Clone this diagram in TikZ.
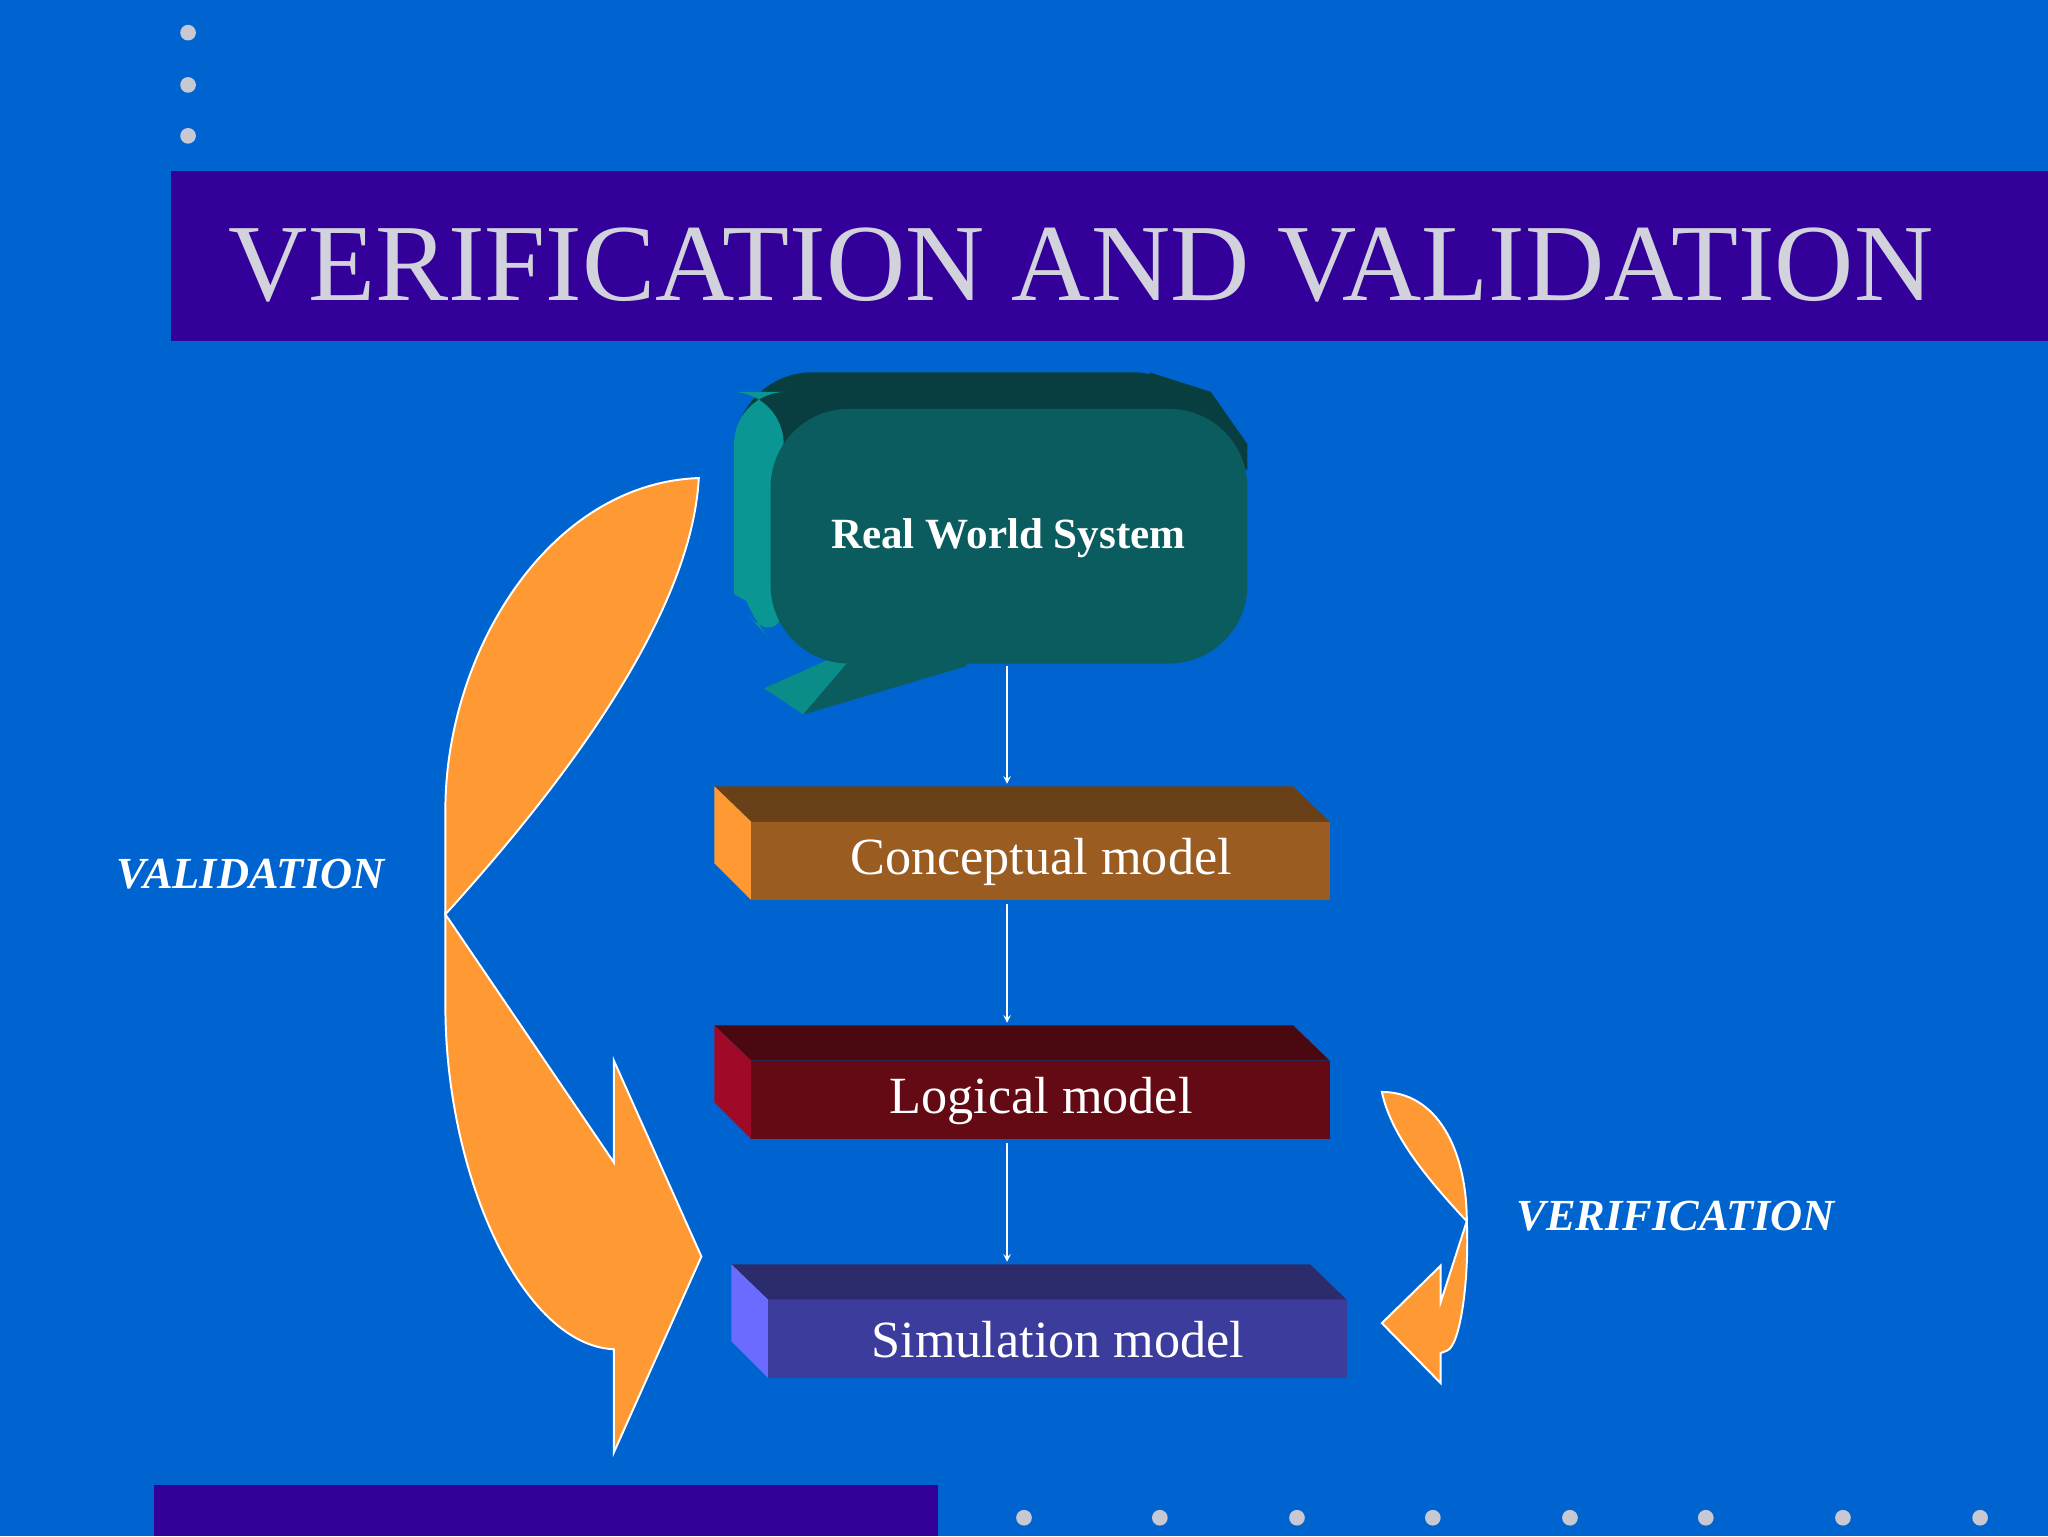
\documentclass[tikz,border=0pt]{standalone}
\usepackage{fontspec}
\setmainfont{Liberation Serif}
\definecolor{bg}{HTML}{0064D0}
\definecolor{bar}{HTML}{330099}
\definecolor{dotc}{HTML}{C8C8D2}
\definecolor{titlec}{HTML}{D2D2DC}
\definecolor{orng}{HTML}{FF9933}
\tikzset{dotn/.style={circle,fill=dotc,inner sep=0pt,minimum size=12pt},
 arr/.style={fill=orng,draw=white,line width=1.5pt,line join=miter},
 conn/.style={draw=white,line width=1.5pt,-stealth},
 lbl/.style={text=white,font=\fontsize{40}{44}\selectfont},
 side/.style={font=\fontsize{34}{38}\selectfont\bfseries\itshape,text=white}}
\begin{document}
\begin{tikzpicture}[x=1pt,y=-1pt]
\fill[bg] (0,0) rectangle (1568,1176);
\useasboundingbox (0,0) rectangle (1568,1176);
\foreach \y [count=\i] in {25,65,104} \node[dotn] (d\i) at (144,\y) {};
\foreach \x [count=\i] in {784,888,993,1097,1202,1306,1411,1516} \node[dotn] (b\i) at (\x,1162) {};
\fill[bar] (131,131) rectangle (1568,261);
\fill[bar] (118,1137) rectangle (718,1176);
\node[anchor=base west,inner sep=0pt,text=titlec,font=\fontsize{84}{90}\selectfont] (title) at (175,230) {VERIFICATION AND VALIDATION};
% bubble
\fill[rounded corners=60pt,fill={rgb,255:red,8;green,62;blue,64}] (562,285) rectangle (927,480);
\fill[fill={rgb,255:red,10;green,150;blue,146}] (562,340) -- (590,370) -- (590,470) -- (562,455) -- cycle;
\fill[rounded corners=40pt,fill={rgb,255:red,10;green,150;blue,146}] (562,300) -- (600,300) -- (600,500) -- (562,460) -- cycle;
\fill[fill={rgb,255:red,10;green,140;blue,136}] (650,498) -- (585,527) -- (615,547) -- (680,510) -- cycle;
\fill[fill={rgb,255:red,8;green,62;blue,64}] (880,285) -- (927,300) -- (955,340) -- (955,360) -- (900,330) -- cycle;
\fill[rounded corners=60pt,fill={rgb,255:red,11;green,92;blue,94}] (590,313) rectangle (955,508);
\fill[fill={rgb,255:red,11;green,92;blue,94}] (655,500) -- (615,547) -- (740,510) -- (740,500) -- cycle;
\node[text=white,font=\fontsize{33}{36}\selectfont\bfseries] (rws) at (772,412) {Real World System};
% boxes
\foreach \n/\y/\xo/\fr/\tp/\lf/\t in {cm/602/547/9A5C20/6A4018/FF9933/Conceptual model,lm/785/547/640A14/4A0810/A00A28/Logical model,sm/968/560/3C3C9C/2C2C6C/6B6BFF/Simulation model}{
 \definecolor{fr}{HTML}{\fr}\definecolor{tp}{HTML}{\tp}\definecolor{lf}{HTML}{\lf}
 \fill[tp] (\xo,\y) -- (\xo+443,\y) -- (\xo+471,\y+27) -- (\xo+28,\y+27) -- cycle;
 \fill[lf] (\xo,\y) -- (\xo+28,\y+27) -- (\xo+28,\y+87) -- (\xo,\y+59) -- cycle;
 \fill[fr] (\xo+28,\y+27) rectangle (\xo+471,\y+87);
 \node[lbl] (\n) at (\xo+250,\y+58) {\t};
}
\coordinate (a1) at (771,510); \coordinate (a2) at (771,600);
\coordinate (a3) at (771,692); \coordinate (a4) at (771,783);
\coordinate (a5) at (771,875); \coordinate (a6) at (771,966);
\draw[conn] (a1) -- (a2); \draw[conn] (a3) -- (a4); \draw[conn] (a5) -- (a6);
% validation arrow
\draw[arr] (535,366) .. controls (420,370) and (341,500) .. (341,620) -- (341,700) .. controls (450,580) and (530,460) .. cycle;
\draw[arr] (341,700) -- (341,770) .. controls (341,900) and (400,1030) .. (470,1033) -- (470,1112) -- (537,962) -- (470,812) -- (470,890) -- cycle;
% verification arrow
\draw[arr] (1058,836) .. controls (1100,836) and (1123,880) .. (1123,935) .. controls (1095,905) and (1065,870) .. cycle;
\draw[arr] (1123,935) .. controls (1125,980) and (1118,1030) .. (1108,1034) -- (1103,1036) -- (1103,1059) -- (1058,1013) -- (1103,969) -- (1103,997) -- cycle;
\node[side] (val) at (192,669) {VALIDATION};
\node[side] (ver) at (1283,931) {VERIFICATION};
\end{tikzpicture}
\end{document}
